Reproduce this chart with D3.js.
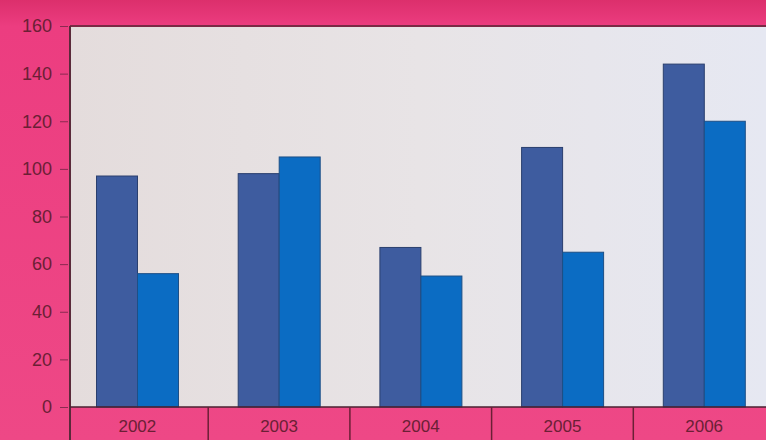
<!DOCTYPE html>
<html>
<head>
<meta charset="utf-8">
<script src="https://cdn.jsdelivr.net/npm/d3@7"></script>
<style>
  body { margin: 0; background: #e8417f; }
  svg { display: block; }
  .tick text { font-family: "Liberation Sans", Arial, sans-serif; fill: #6b1f35; }
</style>
</head>
<body>
<div id="chart"></div>
<script>
  // values
  var years = ["2002", "2003", "2004", "2005", "2006"];
  var seriesA = [97, 98, 67, 109, 144];
  var seriesB = [56, 105, 55, 65, 120];
  var yTicks = [0, 20, 40, 60, 80, 100, 120, 140, 160];

  var width = 766, height = 440;
  var plotLeft = 70, plotTop = 26, plotBottom = 407;
  var bandStart = 66.5, bandW = 141.7;

  var svg = d3.select("#chart").append("svg")
    .attr("width", width)
    .attr("height", height);

  var defs = svg.append("defs");
  var bg = defs.append("linearGradient").attr("id", "bg").attr("x1", 0).attr("x2", 0).attr("y1", 0).attr("y2", 1);
  bg.append("stop").attr("offset", "0%").attr("stop-color", "#dc2f6c");
  bg.append("stop").attr("offset", "6%").attr("stop-color", "#ec3d80");
  bg.append("stop").attr("offset", "100%").attr("stop-color", "#ee4886");

  var plot = defs.append("linearGradient").attr("id", "plot").attr("x1", 0).attr("x2", 1).attr("y1", 0).attr("y2", 0);
  plot.append("stop").attr("offset", "0%").attr("stop-color", "#e4dcdc");
  plot.append("stop").attr("offset", "50%").attr("stop-color", "#e8e4e6");
  plot.append("stop").attr("offset", "100%").attr("stop-color", "#e6e8f2");

  svg.append("rect").attr("width", width).attr("height", height).attr("fill", "url(#bg)");

  var x = d3.scaleBand()
    .domain(years)
    .range([bandStart, bandStart + bandW * years.length]);

  var xSub = d3.scaleBand()
    .domain(["a", "b"])
    .range([30, 112]);

  var y = d3.scaleLinear()
    .domain([0, 160])
    .range([plotBottom, plotTop]);

  // plot background
  svg.append("rect")
    .attr("x", plotLeft).attr("y", plotTop)
    .attr("width", width - plotLeft).attr("height", plotBottom - plotTop)
    .attr("fill", "url(#plot)");

  var data = years.map(function (yr, i) { return { year: yr, a: seriesA[i], b: seriesB[i] }; });

  var groups = svg.selectAll(".grp")
    .data(data)
    .enter().append("g")
    .attr("transform", function (d) { return "translate(" + x(d.year) + ",0)"; });

  groups.append("rect")
    .attr("x", xSub("a"))
    .attr("y", function (d) { return y(d.a); })
    .attr("width", xSub.bandwidth())
    .attr("height", function (d) { return plotBottom - y(d.a); })
    .attr("fill", "#3e5c9f")
    .attr("stroke", "#2a3f6e")
    .attr("stroke-width", 1);

  groups.append("rect")
    .attr("x", xSub("b"))
    .attr("y", function (d) { return y(d.b); })
    .attr("width", xSub.bandwidth())
    .attr("height", function (d) { return plotBottom - y(d.b); })
    .attr("fill", "#0b6cc3")
    .attr("stroke", "#1d4f86")
    .attr("stroke-width", 1);

  // frame lines
  svg.append("line").attr("x1", plotLeft).attr("x2", width).attr("y1", plotTop).attr("y2", plotTop)
    .attr("stroke", "#7a2a45").attr("stroke-width", 2);
  svg.append("line").attr("x1", plotLeft).attr("x2", plotLeft).attr("y1", plotTop).attr("y2", height)
    .attr("stroke", "#5a2a3a").attr("stroke-width", 2);

  // y axis
  var yAxis = svg.append("g")
    .attr("transform", "translate(" + (plotLeft - 2) + ",0)")
    .call(d3.axisLeft(y).tickValues(yTicks).tickSize(8).tickPadding(8));
  yAxis.select(".domain").remove();
  yAxis.selectAll(".tick line").attr("stroke", "#8a2a50");
  yAxis.selectAll("text").style("font-size", "18px");

  // x axis
  var xAxis = svg.append("g")
    .attr("transform", "translate(0," + plotBottom + ")")
    .call(d3.axisBottom(x).tickSize(0).tickPadding(13));
  xAxis.select(".domain").attr("d", "M" + plotLeft + ",0H" + width)
    .attr("stroke", "#4a2030").attr("stroke-width", 1.5);
  xAxis.selectAll("text").style("font-size", "17px");

  // separators between categories
  svg.selectAll(".sep")
    .data(years.slice(1))
    .enter().append("line")
    .attr("x1", function (d) { return x(d); })
    .attr("x2", function (d) { return x(d); })
    .attr("y1", plotBottom)
    .attr("y2", height)
    .attr("stroke", "#6a2035")
    .attr("stroke-width", 1.5);
</script>
</body>
</html>
